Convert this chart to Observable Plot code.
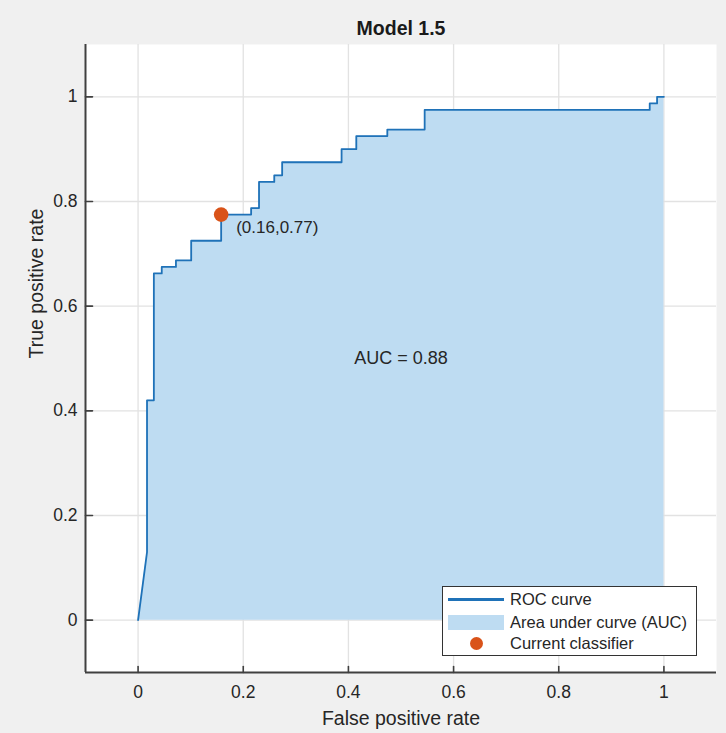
<!DOCTYPE html>
<html>
<head>
<meta charset="utf-8">
<script src="https://cdn.jsdelivr.net/npm/d3@7"></script>
<script src="https://cdn.jsdelivr.net/npm/@observablehq/plot@0.6"></script>
<style>
  html, body { margin: 0; padding: 0; background: #f0f0f0; }
  #wrap { position: relative; width: 726px; height: 733px; font-family: "Liberation Sans", Arial, sans-serif; }
  #legend { position: absolute; left: 442px; top: 586px; width: 255px; height: 70px; background: #fff; border: 1.5px solid #333; box-sizing: border-box; }
  .row { position: absolute; left: 0; height: 20px; width: 100%; }
  .lab { position: absolute; left: 67px; top: 0; font-size: 16.5px; line-height: 20px; color: #262626; white-space: nowrap; }
</style>
</head>
<body>
<div id="wrap"></div>
<script>
const fpr = [0, 0.017, 0.017, 0.03, 0.03, 0.045, 0.045, 0.072, 0.072, 0.101, 0.101, 0.158, 0.158, 0.215, 0.215, 0.23, 0.23, 0.259, 0.259, 0.274, 0.274, 0.387, 0.387, 0.415, 0.415, 0.474, 0.474, 0.545, 0.545, 0.973, 0.973, 0.987, 0.987, 1];
const tpr = [0, 0.13, 0.42, 0.42, 0.6625, 0.6625, 0.675, 0.675, 0.6875, 0.6875, 0.725, 0.725, 0.775, 0.775, 0.7875, 0.7875, 0.8375, 0.8375, 0.85, 0.85, 0.875, 0.875, 0.9, 0.9, 0.925, 0.925, 0.9375, 0.9375, 0.975, 0.975, 0.9875, 0.9875, 1, 1];
const currentFpr = [0.158];
const currentTpr = [0.775];
const currentLabel = ["(0.16,0.77)"];
const aucText = ["AUC = 0.88"];
const aucPos = [0.5, 0.5];
const tickValues = [0, 0.2, 0.4, 0.6, 0.8, 1];
const tickLabels = ["0", "0.2", "0.4", "0.6", "0.8", "1"];
const title = "Model 1.5";
const xLabel = "False positive rate";
const yLabel = "True positive rate";
const legendItems = ["ROC curve", "Area under curve (AUC)", "Current classifier"];

const roc = fpr.map((x, i) => ({fpr: x, tpr: tpr[i]}));
const current = currentFpr.map((x, i) => ({fpr: x, tpr: currentTpr[i], label: currentLabel[i]}));
const fmt = d => tickLabels[tickValues.indexOf(d)];

const tickShape = {draw(context, l) { context.moveTo(0, 0); context.lineTo(0, -l); }};
const axisColor = "#404040";
const chart = Plot.plot({
  width: 726, height: 733,
  marginLeft: 85, marginRight: 10, marginTop: 44, marginBottom: 61,
  x: {domain: [-0.1, 1.1]},
  y: {domain: [-0.1, 1.1]},
  style: {background: "#f0f0f0", fontFamily: "'Liberation Sans', Arial, sans-serif", overflow: "visible"},
  marks: [
    Plot.frame({fill: "white", stroke: null}),
    Plot.gridX(tickValues, {stroke: "#e2e2e2", strokeOpacity: 1, strokeWidth: 1.3}),
    Plot.gridY(tickValues, {stroke: "#e2e2e2", strokeOpacity: 1, strokeWidth: 1.3}),
    Plot.area(roc, {x1: "fpr", y1: () => 0, y2: "tpr", fill: "#bedcf2"}),
    Plot.line(roc, {x: "fpr", y: "tpr", stroke: "#1f72b8", strokeWidth: 1.8}),
    Plot.dot(current, {x: "fpr", y: "tpr", r: 7.3, fill: "#d95319", stroke: null}),
    Plot.text(current, {x: "fpr", y: "tpr", text: "label", dx: 15, dy: 13, textAnchor: "start", fontSize: 17, fill: "#262626"}),
    Plot.text(aucText, {x: () => aucPos[0], y: () => aucPos[1], text: d => d, fontSize: 18, fill: "#262626"}),
    Plot.ruleX([-0.1], {stroke: axisColor, strokeWidth: 2}),
    Plot.ruleY([-0.1], {stroke: axisColor, strokeWidth: 2}),
    Plot.vector(tickValues, {x: d => d, y: () => -0.1, length: 6, anchor: "start", rotate: 0, shape: tickShape, stroke: axisColor, strokeWidth: 1.6}),
    Plot.vector(tickValues, {x: () => -0.1, y: d => d, length: 7, anchor: "start", rotate: 90, shape: tickShape, stroke: axisColor, strokeWidth: 1.6}),
    Plot.axisX(tickValues, {tickSize: 0, tickPadding: 13, tickFormat: fmt, fontSize: 17.5, fill: "#262626", label: null}),
    Plot.axisY(tickValues, {tickSize: 0, tickPadding: 8, tickFormat: fmt, fontSize: 17.5, fill: "#262626", label: null}),
    Plot.text([xLabel], {frameAnchor: "bottom", dy: 46, lineAnchor: "middle", text: d => d, fontSize: 19.5, fill: "#262626"}),
    Plot.text([yLabel], {frameAnchor: "left", dx: -49, rotate: -90, lineAnchor: "middle", text: d => d, fontSize: 19.5, fill: "#262626"}),
    Plot.text([title], {frameAnchor: "top", dy: -16, lineAnchor: "middle", text: d => d, fontSize: 19.5, fontWeight: "bold", fill: "#1a1a1a"})
  ]
});
const wrap = document.getElementById("wrap");
wrap.appendChild(chart);

const legend = document.createElement("div");
legend.id = "legend";
const rows = [
  `<div style="position:absolute;left:5px;top:9px;width:56px;height:3px;background:#1f72b8"></div>`,
  `<div style="position:absolute;left:5px;top:3px;width:56px;height:15px;background:#bedcf2"></div>`,
  `<div style="position:absolute;left:27px;top:4px;width:13px;height:13px;border-radius:50%;background:#d95319"></div>`
];
const tops = [2, 25, 46];
legendItems.forEach((t, i) => {
  const r = document.createElement("div");
  r.className = "row";
  r.style.top = tops[i] + "px";
  r.innerHTML = rows[i] + `<span class="lab">${t}</span>`;
  legend.appendChild(r);
});
wrap.appendChild(legend);
</script>
</body>
</html>
